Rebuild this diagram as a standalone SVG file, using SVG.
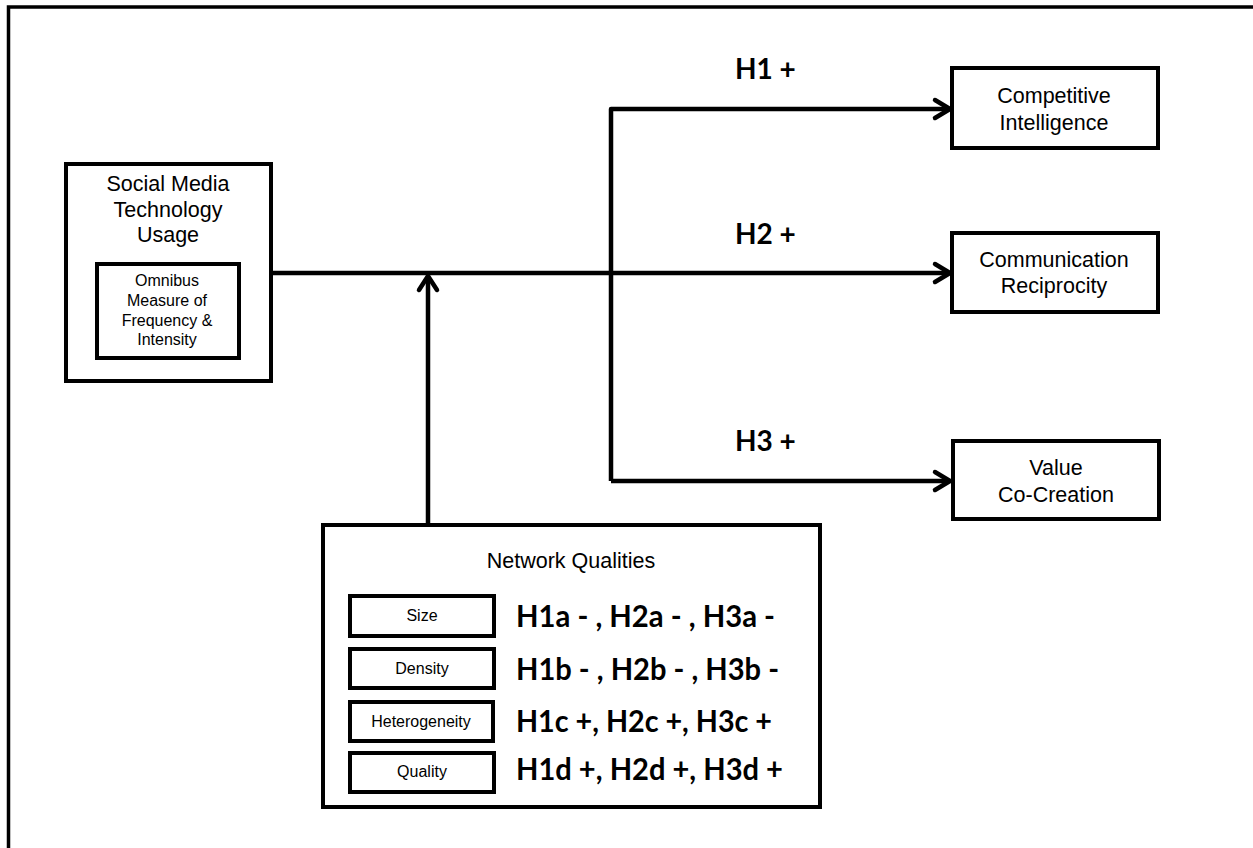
<svg xmlns="http://www.w3.org/2000/svg" width="1253" height="848" viewBox="0 0 1253 848">
<style>
.box{fill:#fff;stroke:#000;stroke-width:4}
.sub{fill:#fff;stroke:#000;stroke-width:4}
.t{font-family:"Liberation Sans",Arial,sans-serif;fill:#000;text-anchor:middle}
.big{font-size:21.5px}
.mid{font-size:16px}
.sm{font-size:16px}
.h{font-family:Lato,"Open Sans",sans-serif;font-weight:bold;fill:#000}
.hl{font-size:28px}
.hh{font-size:30px}
.ln{fill:none;stroke:#000;stroke-width:4.5;stroke-linejoin:round}
.ah{fill:none;stroke:#000;stroke-width:4.5;stroke-linecap:round;stroke-linejoin:round}
</style>
<rect width="1253" height="848" fill="#fff"/>
<path d="M8.5,852 V7 H1256" fill="none" stroke="#000" stroke-width="3.5"/>

<g id="connectors">
  <path class="ln" d="M272,273 H948"/>
  <path class="ln" d="M611,481 V109 H948"/>
  <path class="ln" d="M611,481 H948"/>
  <path class="ln" d="M428,525 V277"/>
  <path class="ah" d="M935,100 L950,109 L935,118"/>
  <path class="ah" d="M935,264 L950,273 L935,282"/>
  <path class="ah" d="M935,472 L950,481 L935,490"/>
  <path class="ah" d="M419,290 L428,276 L437,290"/>
  <text class="h hl" x="735" y="79">H1 +</text>
  <text class="h hl" x="735" y="244">H2 +</text>
  <text class="h hl" x="735" y="451">H3 +</text>
</g>

<g id="smtu">
  <rect class="box" x="66" y="164" width="205" height="217"/>
  <text class="t big" x="168" y="191">Social Media</text>
  <text class="t big" x="168" y="217">Technology</text>
  <text class="t big" x="168" y="242">Usage</text>
  <g id="omnibus">
    <rect class="box" x="97" y="264" width="142" height="94"/>
    <text class="t mid" x="167" y="286">Omnibus</text>
    <text class="t mid" x="167" y="306">Measure of</text>
    <text class="t mid" x="167" y="326">Frequency &amp;</text>
    <text class="t mid" x="167" y="345">Intensity</text>
  </g>
</g>

<g id="ci">
  <rect class="box" x="952" y="68" width="206" height="80"/>
  <text class="t big" x="1054" y="103">Competitive</text>
  <text class="t big" x="1054" y="130">Intelligence</text>
</g>

<g id="cr">
  <rect class="box" x="952" y="233" width="206" height="79"/>
  <text class="t big" x="1054" y="267">Communication</text>
  <text class="t big" x="1054" y="293">Reciprocity</text>
</g>

<g id="vcc">
  <rect class="box" x="953" y="441" width="206" height="78"/>
  <text class="t big" x="1056" y="475">Value</text>
  <text class="t big" x="1056" y="502">Co-Creation</text>
</g>

<g id="nq">
  <rect class="box" x="323" y="525" width="497" height="282"/>
  <text class="t big" x="571" y="568">Network Qualities</text>
  <g id="size">
    <rect class="sub" x="350" y="596" width="144" height="40"/>
    <text class="t sm" x="422" y="621">Size</text>
  </g>
  <g id="density">
    <rect class="sub" x="350" y="649" width="144" height="39"/>
    <text class="t sm" x="422" y="674">Density</text>
  </g>
  <g id="heterogeneity">
    <rect class="sub" x="350" y="702" width="143" height="39"/>
    <text class="t sm" x="421" y="727">Heterogeneity</text>
  </g>
  <g id="quality">
    <rect class="sub" x="350" y="753" width="144" height="39"/>
    <text class="t sm" x="422" y="777">Quality</text>
  </g>
  <text class="h hh" x="516" y="627" textLength="259" lengthAdjust="spacingAndGlyphs">H1a - , H2a - , H3a -</text>
  <text class="h hh" x="516" y="680" textLength="263" lengthAdjust="spacingAndGlyphs">H1b - , H2b - , H3b -</text>
  <text class="h hh" x="516" y="732" textLength="256" lengthAdjust="spacingAndGlyphs">H1c +, H2c +, H3c +</text>
  <text class="h hh" x="516" y="780" textLength="267" lengthAdjust="spacingAndGlyphs">H1d +, H2d +, H3d +</text>
</g>
</svg>
